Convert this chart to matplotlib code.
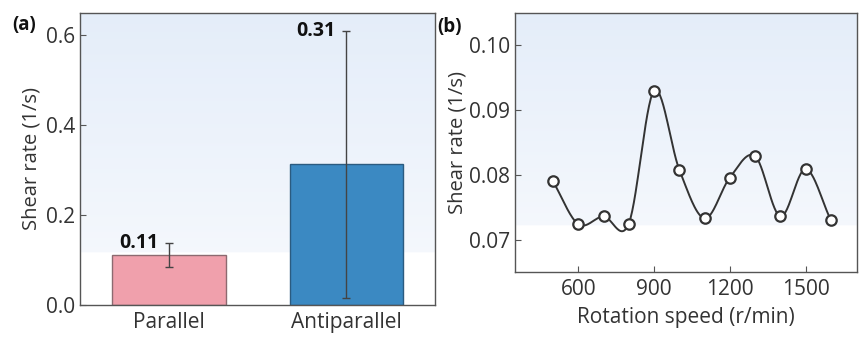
import matplotlib
matplotlib.use("Agg")
import matplotlib.pyplot as plt
import numpy as np

plt.rcParams['font.family'] = ['Open Sans', 'DejaVu Sans']

# panel (a) data
groups = ["Parallel", "Antiparallel"]
rates = [0.111, 0.313]
rate_err = [0.027, 0.298]
bar_colors = ["#f0a0ac", "#3b89c2"]
bar_edges = ["#8c6a70", "#2b5b80"]

# panel (b) data
speed = [500, 600, 700, 800, 900, 1000, 1100, 1200, 1300, 1400, 1500, 1600]
shear = [0.0790, 0.0724, 0.0736, 0.0725, 0.0930, 0.0808, 0.0733, 0.0796, 0.0829, 0.0736, 0.0809, 0.0730]
shear_err = [0.0002, 0.0002, 0.0002, 0.0002, 0.0002, 0.0002, 0.0003, 0.0002, 0.0002, 0.0004, 0.0002, 0.0003]


def smooth_line(x, y, n=30):
    # Catmull-Rom style hermite curve through the points (drawing only)
    x = np.asarray(x, float)
    y = np.asarray(y, float)
    m = np.gradient(y, x)
    xs, ys = [], []
    for i in range(len(x) - 1):
        h = x[i + 1] - x[i]
        t = np.linspace(0, 1, n, endpoint=(i == len(x) - 2))
        h00 = 2 * t**3 - 3 * t**2 + 1
        h10 = t**3 - 2 * t**2 + t
        h01 = -2 * t**3 + 3 * t**2
        h11 = t**3 - t**2
        xs.append(x[i] + t * h)
        ys.append(h00 * y[i] + h10 * h * m[i] + h01 * y[i + 1] + h11 * h * m[i + 1])
    return np.concatenate(xs), np.concatenate(ys)


def shade(ax):
    # pale blue wash fading downwards, white near the bottom
    g = np.linspace(0, 1, 256)
    top = np.array([0.895, 0.930, 0.978])
    low = np.array([0.972, 0.980, 0.992])
    col = top[None, :] * (1 - g[:, None]) + low[None, :] * g[:, None]
    col[g > 0.82] = 1.0
    ax.imshow(col[:, None, :], extent=[0, 1, 0, 1], transform=ax.transAxes,
              aspect='auto', zorder=0, interpolation='bilinear')


def style(ax):
    for s in ax.spines.values():
        s.set_color("#555555")
        s.set_linewidth(1.0)
    ax.tick_params(direction='in', length=4, width=0.8, color="#555555",
                   labelsize=15, labelcolor="#333333")


fig = plt.figure(figsize=(8.6, 3.38), dpi=100)

ax1 = fig.add_axes([0.093, 0.0976, 0.413, 0.864])
shade(ax1)
x = np.arange(len(groups))
ax1.bar(x, rates, width=0.64, color=bar_colors, edgecolor=bar_edges, linewidth=1.0, zorder=2)
ax1.errorbar(x, rates, yerr=rate_err, fmt='none', ecolor="#444444", elinewidth=1.0,
             capsize=3, capthick=1.0, zorder=3)
for xi, r, e in zip(x, rates, rate_err):
    ax1.text(xi - 0.06, r + e, f"{r:.2f}", ha='right', va='center',
             fontsize=14, fontweight='bold', color="#111111", zorder=4)
ax1.set_xlim(-0.5, 1.5)
ax1.set_ylim(0, 0.65)
ax1.set_yticks([0.0, 0.2, 0.4, 0.6])
ax1.set_xticks(x)
ax1.set_xticklabels(groups, fontsize=14.5)
ax1.set_ylabel("Shear rate (1/s)", fontsize=14.5, color="#333333", labelpad=3)
style(ax1)
ax1.tick_params(axis='x', length=0, pad=5)
fig.text(0.014, 0.925, "(a)", fontsize=13.5, fontweight='bold', color="#111111", va='center')

ax2 = fig.add_axes([0.599, 0.195, 0.398, 0.7665])
shade(ax2)
xs, ys = smooth_line(speed, shear)
ax2.plot(xs, ys, color="#333333", linewidth=1.4, zorder=2)
ax2.errorbar(speed, shear, yerr=shear_err, fmt='o', markersize=7.5, markerfacecolor='white',
             markeredgecolor="#333333", markeredgewidth=1.6, ecolor="#333333",
             elinewidth=1.0, capsize=2, zorder=3)
ax2.set_xlim(350, 1705)
ax2.set_ylim(0.065, 0.105)
ax2.set_xticks([600, 900, 1200, 1500])
ax2.set_yticks([0.07, 0.08, 0.09, 0.10])
ax2.set_yticklabels(["0.07", "0.08", "0.09", "0.10"])
ax2.set_xlabel("Rotation speed (r/min)", fontsize=15, color="#333333", labelpad=5)
ax2.set_ylabel("Shear rate (1/s)", fontsize=14.5, color="#333333", labelpad=1)
style(ax2)
ax2.tick_params(axis='x', pad=5)
fig.text(0.509, 0.92, "(b)", fontsize=13.5, fontweight='bold', color="#111111", va='center')

fig.savefig("out.png", dpi=100)
